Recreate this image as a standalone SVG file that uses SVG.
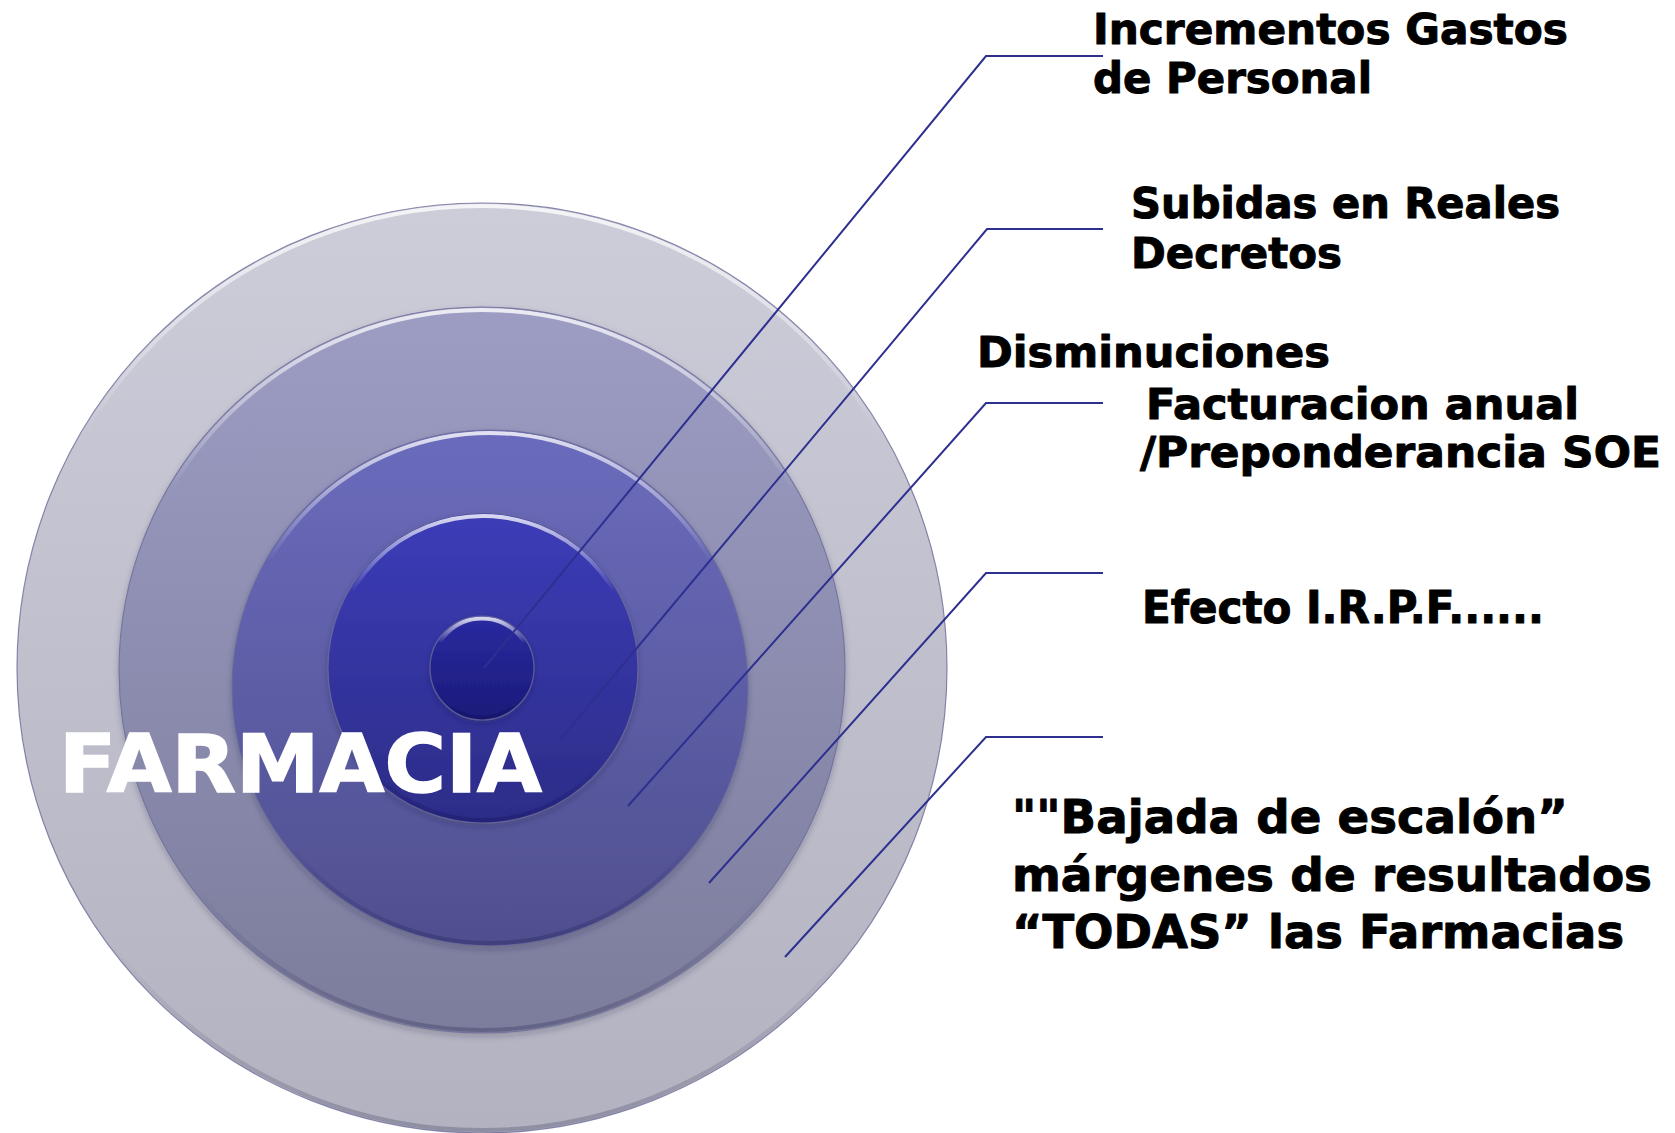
<svg xmlns="http://www.w3.org/2000/svg" width="1675" height="1133" viewBox="0 0 1675 1133">
<style>
.lbl{font-family:"DejaVu Sans","Liberation Sans",sans-serif;font-weight:bold;fill:#000;stroke:#000;stroke-width:1;stroke-linejoin:round;}
.big{font-family:"DejaVu Sans","Liberation Sans",sans-serif;font-weight:bold;fill:#fff;stroke:#fff;stroke-width:1.5;font-size:80px;}
.conn{fill:none;stroke:#2e3090;stroke-width:2;}
.rim{fill:none;stroke:url(#rimG);stroke-width:4;}
.edge{fill:none;stroke:#6c6c98;stroke-width:1.2;stroke-opacity:0.8;}
</style>
<defs>
<linearGradient id="g1" x1="0" y1="0" x2="0" y2="1"><stop offset="0" stop-color="#cdcdda"/><stop offset="1" stop-color="#b2b2c0"/></linearGradient>
<linearGradient id="g2" x1="0" y1="0" x2="0" y2="1"><stop offset="0" stop-color="#9d9dc4"/><stop offset="1" stop-color="#7c7c9c"/></linearGradient>
<linearGradient id="g3" x1="0" y1="0" x2="0" y2="1"><stop offset="0" stop-color="#6b6bbd"/><stop offset="1" stop-color="#4f4f8f"/></linearGradient>
<linearGradient id="g4" x1="0" y1="0" x2="0" y2="1"><stop offset="0" stop-color="#3c3cb8"/><stop offset="1" stop-color="#2c2c88"/></linearGradient>
<linearGradient id="g5" x1="0" y1="0" x2="0" y2="1"><stop offset="0" stop-color="#2a2aa0"/><stop offset="1" stop-color="#1a1a7a"/></linearGradient>
<linearGradient id="rimG" x1="0" y1="0" x2="0" y2="1"><stop offset="0" stop-color="#ffffff" stop-opacity="0.8"/><stop offset="0.25" stop-color="#ffffff" stop-opacity="0"/><stop offset="0.8" stop-color="#000030" stop-opacity="0"/><stop offset="1" stop-color="#000030" stop-opacity="0.2"/></linearGradient>
<filter id="sh" x="-10%" y="-10%" width="120%" height="125%"><feDropShadow dx="0" dy="3" stdDeviation="3" flood-color="#1a1a40" flood-opacity="0.25"/></filter>
</defs>
<g id="ring1"><circle cx="482" cy="668" r="465" fill="url(#g1)"/><circle cx="482" cy="668" r="462" class="rim"/><circle cx="482" cy="668" r="465" class="edge"/></g>
<g id="ring2" filter="url(#sh)"><circle cx="482" cy="670" r="363" fill="url(#g2)"/><circle cx="482" cy="670" r="360" class="rim"/><circle cx="482" cy="670" r="363" class="edge"/></g>
<g id="ring3" filter="url(#sh)"><circle cx="490" cy="688" r="258" fill="url(#g3)"/><circle cx="490" cy="688" r="255" class="rim"/><circle cx="490" cy="688" r="258" class="edge"/></g>
<g id="ring4" filter="url(#sh)"><circle cx="483" cy="668" r="155" fill="url(#g4)"/><circle cx="483" cy="668" r="152" class="rim"/><circle cx="483" cy="668" r="155" class="edge"/></g>
<g id="ring5" filter="url(#sh)"><circle cx="482" cy="668" r="52" fill="url(#g5)"/><circle cx="482" cy="668" r="49.5" class="rim"/><circle cx="482" cy="668" r="52" class="edge"/></g>
<g id="connectors">
<polyline class="conn" points="484,668 986,56 1103,56"/>
<polyline class="conn" points="560,740 987,229 1103,229"/>
<polyline class="conn" points="628,806 986,403 1103,403"/>
<polyline class="conn" points="709,883 986,573 1103,573"/>
<polyline class="conn" points="785,957 986,737 1103,737"/>
</g>
<g id="center-label"><text class="big" x="59" y="792" textLength="483" lengthAdjust="spacingAndGlyphs">FARMACIA</text></g>
<g id="label1" class="lbl" font-size="43">
<text x="1093" y="44" textLength="475" lengthAdjust="spacingAndGlyphs">Incrementos Gastos</text>
<text x="1093" y="93" textLength="279" lengthAdjust="spacingAndGlyphs">de Personal</text>
</g>
<g id="label2" class="lbl" font-size="43">
<text x="1131" y="218" textLength="429" lengthAdjust="spacingAndGlyphs">Subidas en Reales</text>
<text x="1131" y="268" textLength="211" lengthAdjust="spacingAndGlyphs">Decretos</text>
</g>
<g id="label3" class="lbl" font-size="43">
<text x="977" y="367" textLength="353" lengthAdjust="spacingAndGlyphs">Disminuciones</text>
<text x="1146" y="419" textLength="433" lengthAdjust="spacingAndGlyphs">Facturacion anual</text>
<text x="1140" y="467" textLength="521" lengthAdjust="spacingAndGlyphs">/Preponderancia SOE</text>
</g>
<g id="label4" class="lbl" font-size="44">
<text x="1142" y="623" textLength="402" lengthAdjust="spacingAndGlyphs">Efecto I.R.P.F......</text>
</g>
<g id="label5" class="lbl" font-size="47">
<text x="1012" y="833" textLength="556" lengthAdjust="spacingAndGlyphs">""Bajada de escalón”</text>
<text x="1012" y="891" textLength="640" lengthAdjust="spacingAndGlyphs">márgenes de resultados</text>
<text x="1012" y="948" textLength="612" lengthAdjust="spacingAndGlyphs">“TODAS” las Farmacias</text>
</g>
</svg>
